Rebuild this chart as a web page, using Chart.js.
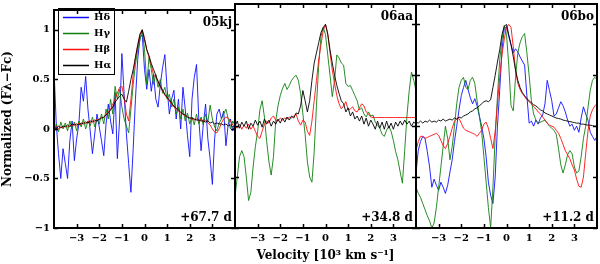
<!DOCTYPE html>
<html><head><meta charset="utf-8">
<script src="https://cdn.jsdelivr.net/npm/chart.js@4/dist/chart.umd.min.js"></script>
<style>
html,body{margin:0;padding:0;background:#fff;overflow:hidden;width:600px;height:264px}
canvas{position:absolute;left:0;top:0}
</style>
</head><body>
<canvas id="p1" width="600" height="264"></canvas>
<canvas id="p2" width="600" height="264"></canvas>
<canvas id="p3" width="600" height="264"></canvas>
<script>
// ---------- data ----------
const velocity = [
 -4.0,-3.9,-3.8,-3.7,-3.6,-3.5,-3.4,-3.3,-3.2,-3.1,
 -3.0,-2.9,-2.8,-2.7,-2.6,-2.5,-2.4,-2.3,-2.2,-2.1,
 -2.0,-1.9,-1.8,-1.7,-1.6,-1.5,-1.4,-1.3,-1.2,-1.1,
 -1.0,-0.9,-0.8,-0.7,-0.6,-0.5,-0.4,-0.3,-0.2,-0.1,
  0.0, 0.1, 0.2, 0.3, 0.4, 0.5, 0.6, 0.7, 0.8, 0.9,
  1.0, 1.1, 1.2, 1.3, 1.4, 1.5, 1.6, 1.7, 1.8, 1.9,
  2.0, 2.1, 2.2, 2.3, 2.4, 2.5, 2.6, 2.7, 2.8, 2.9,
  3.0, 3.1, 3.2, 3.3, 3.4, 3.5, 3.6, 3.7, 3.8, 3.9,
  4.0];
const xTicks = [-3,-2,-1,0,1,2,3];
const yTicks = [-1,-0.5,0,0.5,1];
const lineNames = ['H\u03b4','H\u03b3','H\u03b2','H\u03b1'];
const panelNames = ['05kj','06aa','06bo'];
const panelEpochs = ['+67.7 d','+34.8 d','+11.2 d'];

// SN 2005kj
const hd05kj = [
 0.6,0.05,-0.25,-0.5,-0.2,-0.35,-0.5,-0.12,0.08,-0.32,
 -0.1,0.05,0.42,0.28,0.53,0.2,-0.02,-0.25,-0.05,0.15,
 0.02,-0.12,-0.27,0.05,0.25,0.08,-0.05,0.37,-0.3,0.1,
 0.76,0.35,-0.05,-0.35,-0.64,-0.2,0.3,0.7,0.92,0.95,
 0.6,0.4,0.6,0.38,0.55,0.3,0.22,0.45,0.62,0.75,
 0.4,0.15,0.3,0.39,0.1,0.3,0.0,0.42,0.2,-0.07,
 -0.28,0.3,0.52,0.65,0.1,-0.22,0.05,0.25,-0.1,-0.3,
 -0.56,-0.1,0.15,0.2,0.1,0.18,-0.17,0.05,0.1,-0.02,
 0.05];
const hg05kj = [
 -0.05,0.05,-0.03,0.07,0.0,0.06,-0.02,0.08,0.0,0.07,
 -0.02,0.08,0.02,0.1,0.0,0.08,0.03,0.12,0.02,0.1,
 0.05,0.15,0.05,0.2,0.1,0.3,0.15,0.43,0.3,0.4,
 0.22,0.1,0.03,-0.04,0.2,0.45,0.65,0.8,0.9,1.0,
 0.8,0.45,0.72,0.6,0.45,0.55,0.42,0.5,0.36,0.42,
 0.3,0.35,0.22,0.3,0.15,0.22,0.1,0.2,0.08,0.16,
 0.05,0.12,0.04,0.15,0.05,0.12,0.04,0.15,0.07,0.24,
 0.1,0.02,-0.02,0.06,0.1,0.15,0.2,0.1,0.0,0.08,
 0.03];
const hb05kj = [
 0.0,0.03,0.0,0.02,0.01,0.03,0.02,0.04,0.03,0.05,
 0.03,0.06,0.04,0.07,0.05,0.08,0.06,0.08,0.07,0.1,
 0.09,0.12,0.11,0.15,0.17,0.2,0.25,0.3,0.36,0.42,
 0.43,0.32,0.15,0.08,0.3,0.55,0.72,0.85,0.96,1.0,
 0.92,0.8,0.72,0.64,0.55,0.52,0.48,0.42,0.38,0.34,
 0.31,0.28,0.25,0.22,0.2,0.18,0.16,0.15,0.13,0.12,
 0.11,0.1,0.09,0.1,0.08,0.1,0.07,0.09,0.06,0.04,
 0.0,-0.03,-0.04,0.0,0.06,0.1,0.12,0.11,0.08,0.04,
 0.02];
const ha05kj = [
 0.02,0.0,0.03,0.01,0.03,0.02,0.04,0.02,0.05,0.04,
 0.05,0.04,0.06,0.05,0.07,0.06,0.08,0.07,0.09,0.08,
 0.1,0.11,0.12,0.14,0.16,0.19,0.22,0.27,0.3,0.33,
 0.35,0.3,0.27,0.38,0.5,0.6,0.72,0.84,0.95,1.0,
 0.9,0.8,0.74,0.66,0.6,0.54,0.48,0.43,0.39,0.35,
 0.32,0.29,0.26,0.23,0.21,0.19,0.17,0.15,0.14,0.12,
 0.11,0.11,0.1,0.09,0.09,0.08,0.08,0.07,0.08,0.06,
 0.07,0.05,0.06,0.05,0.05,0.04,0.05,0.03,0.04,0.02,
 0.03];

// SN 2006aa
const hg06aa = [
 -0.69,-0.5,-0.3,-0.24,-0.3,-0.5,-0.73,-0.65,-0.4,-0.2,
 -0.05,0.16,0.25,0.09,-0.15,-0.35,-0.48,-0.3,0.05,0.2,
 0.3,0.37,0.42,0.36,0.4,0.45,0.48,0.5,0.45,0.32,
 0.12,-0.08,-0.35,-0.5,-0.55,-0.25,0.2,0.6,0.88,0.97,
 0.9,0.7,0.5,0.29,0.45,0.7,0.67,0.62,0.6,0.42,
 0.39,0.4,0.35,0.3,0.25,0.16,0.18,0.12,0.09,0.14,
 0.1,0.11,0.04,0.01,-0.02,-0.08,-0.1,-0.04,0.0,-0.05,
 -0.14,-0.25,-0.33,-0.45,-0.56,-0.24,0.1,0.35,0.53,0.45,
 0.35];
const hb06aa = [
 0.0,-0.02,0.02,-0.03,0.01,-0.02,0.02,-0.03,0.0,-0.05,
 -0.1,-0.12,-0.05,0.02,0.05,0.03,0.08,0.1,0.06,0.05,
 0.08,0.06,0.08,0.07,0.09,0.08,0.1,0.12,0.05,0.01,
 0.06,0.04,-0.05,-0.09,0.05,0.25,0.45,0.65,0.8,0.94,
 1.0,0.91,0.72,0.55,0.42,0.3,0.22,0.17,0.2,0.24,
 0.16,0.17,0.19,0.15,0.14,0.18,0.22,0.2,0.14,0.12,
 0.09,0.085,0.085,0.085,0.085,0.085,0.085,0.085,0.085,0.085,
 0.085,0.085,0.085,0.085,0.085,0.085,0.085,0.085,0.085,0.085,
 0.085];
const ha06aa = [
 0.0,0.05,-0.02,0.04,0.0,0.05,-0.03,0.03,0.0,0.06,
 0.01,0.05,-0.01,0.07,0.02,0.06,0.0,0.05,0.02,0.07,
 0.03,0.08,0.04,0.09,0.06,0.1,0.08,0.13,0.12,0.2,
 0.35,0.25,0.14,0.25,0.45,0.62,0.72,0.82,0.92,0.97,
 1.0,0.9,0.75,0.62,0.5,0.4,0.32,0.25,0.22,0.14,
 0.18,0.1,0.14,0.07,0.1,0.05,0.1,0.02,0.08,0.0,
 0.06,0.02,-0.03,0.05,-0.02,0.04,-0.03,0.05,-0.02,0.03,
 -0.03,0.04,0.0,0.05,0.01,0.06,0.02,0.05,0.0,0.04,
 0.02];

// SN 2006bo
const hd06bo = [
 -0.46,-0.24,-0.15,-0.1,-0.12,-0.25,-0.4,-0.6,-0.52,-0.58,
 -0.63,-0.55,-0.6,-0.66,-0.58,-0.45,-0.33,-0.15,0.0,0.16,
 0.3,0.38,0.45,0.36,0.28,0.22,0.27,0.2,0.1,0.0,
 -0.12,-0.3,-0.55,-0.68,-0.76,-0.5,0.0,0.35,0.75,0.95,
 0.98,0.88,0.8,0.72,0.76,0.73,0.68,0.64,0.6,0.3,
 0.03,0.05,0.0,0.06,0.02,0.08,0.11,0.22,0.45,0.35,
 0.25,0.1,0.12,0.18,0.24,0.2,0.14,0.06,0.0,0.02,
 -0.04,0.0,-0.06,0.08,0.19,0.12,0.06,-0.06,-0.1,-0.14,
 -0.1];
const hg06bo = [
 -0.6,-0.66,-0.7,-0.76,-0.82,-0.88,-0.93,-1.0,-0.95,-0.8,
 -0.6,-0.4,-0.2,0.0,-0.12,-0.33,-0.2,0.0,0.22,0.38,
 0.45,0.48,0.38,0.36,0.45,0.48,0.42,0.25,0.1,-0.05,
 -0.3,-0.55,-0.8,-1.0,-0.6,-0.1,0.29,0.65,0.85,0.99,
 0.9,0.6,0.2,0.15,0.48,0.72,0.82,0.88,0.91,0.72,
 0.5,0.25,0.12,0.06,0.03,0.04,0.05,0.06,0.03,0.0,
 -0.02,-0.04,-0.08,-0.22,-0.38,-0.46,-0.38,-0.28,-0.24,-0.27,
 -0.4,-0.46,-0.44,-0.3,-0.12,0.0,0.18,0.35,0.45,0.48,
 0.46];
const hb06bo = [
 -0.24,-0.15,-0.1,-0.1,-0.12,-0.11,-0.1,-0.09,-0.08,-0.07,
 -0.09,-0.14,-0.19,-0.22,-0.17,-0.1,-0.02,0.05,0.07,0.075,
 0.03,-0.02,-0.04,-0.05,-0.06,-0.07,-0.08,-0.1,-0.07,-0.04,
 0.02,0.04,-0.02,-0.12,-0.22,-0.05,0.22,0.48,0.7,0.85,
 0.97,1.0,0.97,0.78,0.55,0.42,0.36,0.32,0.29,0.26,
 0.24,0.22,0.19,0.17,0.14,0.12,0.09,0.06,0.03,0.01,
 0.0,-0.01,-0.04,-0.07,-0.12,-0.18,-0.24,-0.28,-0.32,-0.38,
 -0.43,-0.52,-0.59,-0.6,-0.5,-0.27,-0.05,0.1,0.16,0.2,
 0.22];
const ha06bo = [
 0.04,0.03,0.05,0.03,0.05,0.04,0.06,0.04,0.05,0.04,
 0.06,0.05,0.07,0.05,0.06,0.07,0.06,0.08,0.07,0.09,
 0.08,0.1,0.11,0.12,0.14,0.15,0.17,0.18,0.2,0.22,
 0.24,0.25,0.24,0.26,0.38,0.5,0.63,0.75,0.9,0.98,
 1.0,0.9,0.8,0.68,0.55,0.45,0.38,0.33,0.3,0.27,
 0.25,0.23,0.21,0.2,0.18,0.16,0.15,0.13,0.12,0.11,
 0.1,0.09,0.08,0.075,0.07,0.06,0.055,0.05,0.045,0.04,
 0.035,0.03,0.03,0.02,0.02,0.015,0.01,0.01,0.005,0.0,
 0.0];

// ---------- styling ----------
const COLORS = ['#1010ff', '#108010', '#ff1010', '#000000'];
const FONT = "'DejaVu Serif', serif";
Chart.defaults.font.family = FONT;
Chart.defaults.color = '#000';
Chart.defaults.animation = false;

const fmt = v => (v < 0 ? '\u2212' + Math.abs(v) : String(v));

function pts(vals) { return velocity.map((v, i) => ({x: v, y: vals[i]})); }
function ds(k, vals) {
  return {label: lineNames[k], data: pts(vals), borderColor: COLORS[k], backgroundColor: COLORS[k],
          borderWidth: 0.9, pointRadius: 0, tension: 0, fill: false, order: 4 - k};
}

const framePlugin = {
  id: 'panelFrame',
  afterLayout(chart) {
    const lg = chart.legend;
    if (lg && lg.options.display) {
      lg.left = chart.chartArea.left + 3;
      lg.top = chart.chartArea.top - 3.5;
    }
  },
  afterDatasetsDraw(chart, args, opts) {
    const {ctx, chartArea: ca, scales} = chart;
    ctx.save();
    // legend box (white background + border), then legend on top
    const lg = chart.legend;
    if (lg && lg.options.display && lg.legendHitBoxes && lg.legendHitBoxes.length) {
      const hb = lg.legendHitBoxes;
      const l = Math.min(...hb.map(h => h.left)) - 5;
      const t = Math.min(...hb.map(h => h.top)) - 5;
      const r = Math.max(...hb.map(h => h.left + h.width)) + 3;
      const b = Math.max(...hb.map(h => h.top + h.height)) + 2.5;
      ctx.fillStyle = '#fff';
      ctx.fillRect(l, t, r - l, b - t);
      ctx.strokeStyle = '#000';
      ctx.lineWidth = 1;
      ctx.strokeRect(Math.round(l) + 0.5, Math.round(t) + 0.5, Math.round(r - l), Math.round(b - t));
      lg.draw();
    }
    // frame
    ctx.strokeStyle = '#000';
    ctx.lineWidth = 2;
    ctx.strokeRect(ca.left, ca.top, ca.right - ca.left, ca.bottom - ca.top);
    // inward tick marks
    ctx.lineWidth = 1.5;
    ctx.beginPath();
    xTicks.forEach(v => {
      const px = Math.round(scales.x.getPixelForValue(v)) + 0.5;
      ctx.moveTo(px, ca.top); ctx.lineTo(px, ca.top + 4);
      ctx.moveTo(px, ca.bottom); ctx.lineTo(px, ca.bottom - 4);
    });
    yTicks.forEach(v => {
      const py = Math.round(scales.y.getPixelForValue(v)) + 0.5;
      ctx.moveTo(ca.left, py); ctx.lineTo(ca.left + 4, py);
      ctx.moveTo(ca.right, py); ctx.lineTo(ca.right - 4, py);
    });
    ctx.stroke();
    // panel labels
    ctx.fillStyle = '#000';
    ctx.font = 'bold 12px ' + FONT;
    ctx.textAlign = 'right';
    ctx.textBaseline = 'middle';
    ctx.fillText(opts.name, ca.right - 3, ca.top + 13);
    ctx.fillText(opts.epoch, ca.right - 3, ca.bottom - 10);
    ctx.restore();
  }
};

function makePanel(id, idx, padL, padR, datasets, showY, showLegend, xTitle) {
  return new Chart(document.getElementById(id), {
    type: 'line',
    data: {datasets},
    options: {
      responsive: false,
      animation: false,
      events: [],
      layout: {padding: {left: padL, right: padR, top: 4, bottom: 0}},
      plugins: {
        tooltip: {enabled: false},
        legend: {
          display: showLegend,
          position: 'chartArea',
          align: 'start',
          labels: {
            usePointStyle: true, pointStyle: 'line', pointStyleWidth: 26,
            padding: 6, color: '#000',
            font: {family: FONT, size: 10, weight: 'bold'},
            generateLabels: c => Chart.defaults.plugins.legend.labels.generateLabels(c)
              .map(it => Object.assign(it, {lineWidth: 1.6})),
            sort: (a, b) => a.datasetIndex - b.datasetIndex
          }
        },
        panelFrame: {name: panelNames[idx], epoch: panelEpochs[idx]}
      },
      scales: {
        x: {
          type: 'linear', min: -4, max: 4,
          afterBuildTicks: s => { s.ticks = xTicks.map(v => ({value: v})); },
          afterFit: s => { s.height = 36; },
          grid: {display: false, drawTicks: false},
          border: {display: false},
          ticks: {padding: 4, color: '#000', autoSkip: false, maxRotation: 0,
                  font: {family: FONT, size: 10, weight: 'bold'}, callback: fmt},
          title: {display: !!xTitle, text: xTitle || '', color: '#000',
                  padding: {top: 0, bottom: 1},
                  font: {family: FONT, size: 12, weight: 'bold'}}
        },
        y: {
          type: 'linear', min: -1, max: 1.2, display: showY,
          afterBuildTicks: s => { s.ticks = yTicks.map(v => ({value: v})); },
          afterFit: s => { s.width = showY ? 54 : 0; },
          grid: {display: false, drawTicks: false},
          border: {display: false},
          ticks: {padding: 4, color: '#000',
                  font: {family: FONT, size: 10, weight: 'bold'}, callback: fmt},
          title: {display: true, text: 'Normalized (F\u03bb\u2212Fc)', color: '#000',
                  padding: {top: 1, bottom: 0},
                  font: {family: FONT, size: 12, weight: 'bold'}}
        }
      }
    },
    plugins: [framePlugin]
  });
}

makePanel('p1', 0, 0, 365,
  [ds(0, hd05kj), ds(1, hg05kj), ds(2, hb05kj), ds(3, ha05kj)], true, true, null);
makePanel('p2', 1, 235, 184,
  [ds(1, hg06aa), ds(2, hb06aa), ds(3, ha06aa)], false, false, 'Velocity [10\u00b3 km s\u207b\u00b9]');
makePanel('p3', 2, 416, 3,
  [ds(0, hd06bo), ds(1, hg06bo), ds(2, hb06bo), ds(3, ha06bo)], false, false, null);
</script>
</body></html>
